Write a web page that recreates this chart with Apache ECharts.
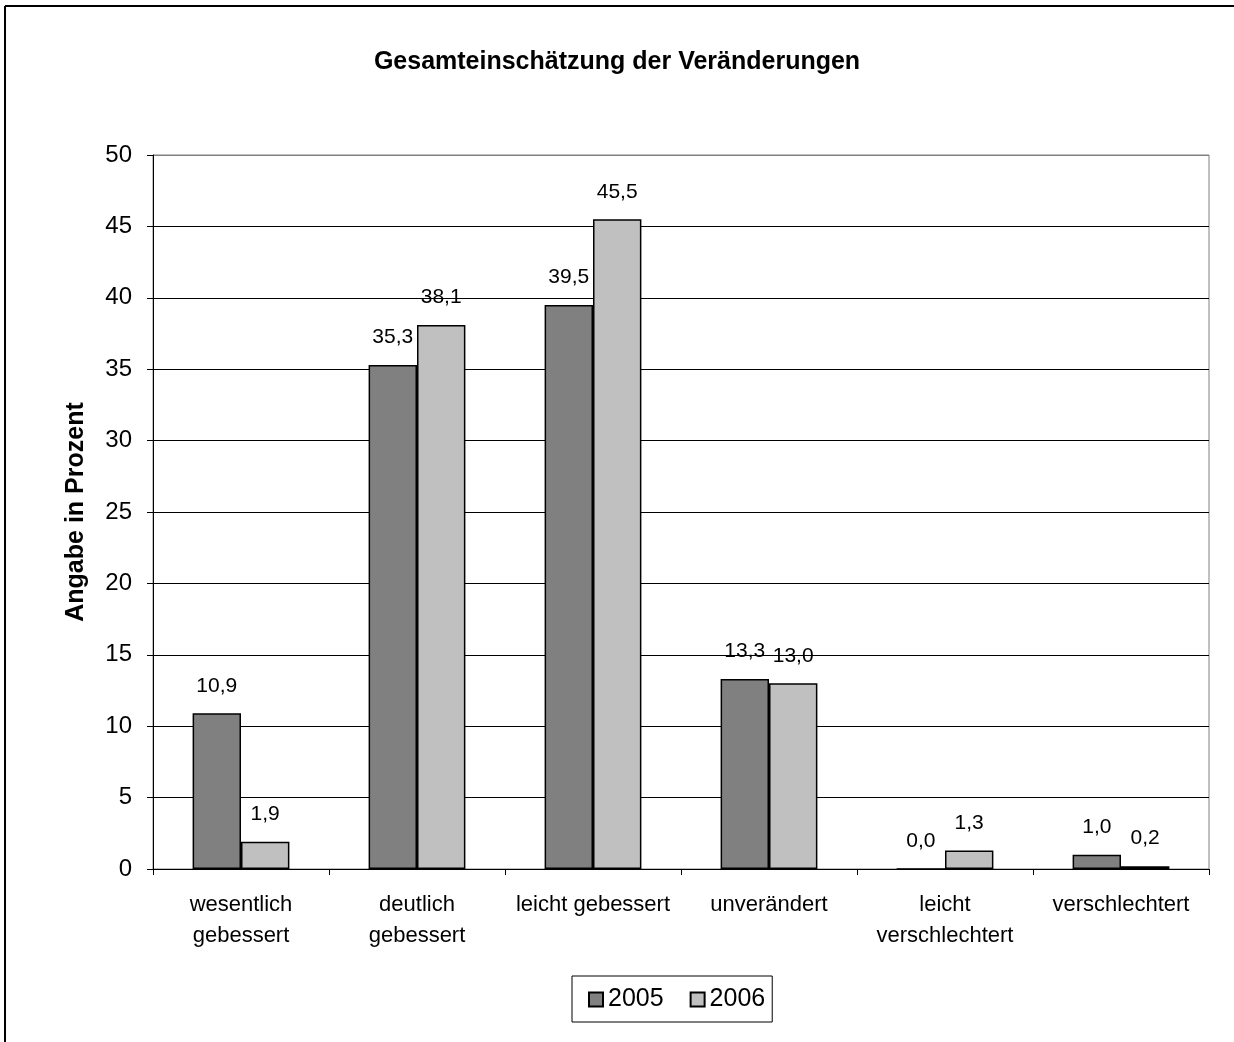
<!DOCTYPE html>
<html>
<head>
<meta charset="utf-8">
<script src="https://cdn.jsdelivr.net/npm/echarts@6/dist/echarts.min.js"></script>
<style>
html,body{margin:0;padding:0;background:#fff;}
#chart{width:1234px;height:1042px;}
</style>
</head>
<body>
<div id="chart"></div>
<script>
const titleText = 'Gesamteinschätzung der Veränderungen';
const yAxisName = 'Angabe in Prozent';
const categories = ['wesentlich\ngebessert', 'deutlich\ngebessert', 'leicht gebessert', 'unverändert', 'leicht\nverschlechtert', 'verschlechtert'];
const seriesNames = ['2005', '2006'];
const values2005 = [10.9, 35.3, 39.5, 13.3, 0.0, 1.0];
const values2006 = [1.9, 38.1, 45.5, 13.0, 1.3, 0.2];
const yMin = 0, yMax = 50, yStep = 5;

const font = '"Liberation Sans", Arial, sans-serif';
const fmt = p => p.value.toFixed(1).replace('.', ',');

const splitColors = [];
for (let v = yMin; v <= yMax; v += yStep) splitColors.push(v === yMax ? '#808080' : '#000000');

const chart = echarts.init(document.getElementById('chart'), null, {renderer: 'canvas'});
const labelStyle = {show: true, position: 'top', distance: 17, formatter: fmt, fontFamily: font, fontSize: 21, color: '#000'};

chart.setOption({
  animation: false,
  backgroundColor: '#fff',
  title: {
    text: titleText, left: 'center', top: 45,
    textStyle: {fontFamily: font, fontSize: 25, fontWeight: 'bold', color: '#000'}
  },
  graphic: [
    {type: 'line', shape: {x1: 5, y1: 6, x2: 1234, y2: 6}, style: {stroke: '#000', lineWidth: 2}},
    {type: 'line', shape: {x1: 5, y1: 6, x2: 5, y2: 1042}, style: {stroke: '#000', lineWidth: 2}}
  ],
  legend: {
    data: seriesNames,
    left: 572, top: 976,
    padding: [11, 7, 10, 16],
    itemGap: 26, itemWidth: 14, itemHeight: 14,
    borderColor: '#000', borderWidth: 1,
    icon: 'rect',
    textStyle: {fontFamily: font, fontSize: 25, color: '#000'}
  },
  grid: {left: 153, right: 25, top: 155, bottom: 173, show: true, borderColor: '#808080', borderWidth: 1, backgroundColor: 'transparent'},
  xAxis: {
    type: 'category', data: categories,
    axisLine: {lineStyle: {color: '#000', width: 1}},
    axisTick: {show: true, length: 6, lineStyle: {color: '#000'}},
    axisLabel: {fontFamily: font, fontSize: 22, color: '#000', margin: 20, lineHeight: 31, interval: 0}
  },
  yAxis: {
    type: 'value', min: yMin, max: yMax, interval: yStep,
    name: yAxisName, nameLocation: 'middle', nameGap: 64, nameRotate: 90,
    nameTextStyle: {fontFamily: font, fontSize: 25, fontWeight: 'bold', color: '#000'},
    axisLine: {show: true, lineStyle: {color: '#000', width: 1}},
    axisTick: {show: true, length: 6, lineStyle: {color: '#000'}},
    axisLabel: {fontFamily: font, fontSize: 24, color: '#000', margin: 21},
    splitLine: {show: true, lineStyle: {color: splitColors, width: 1}}
  },
  series: [
    {name: seriesNames[0], type: 'bar', data: values2005, barGap: '0%', barCategoryGap: '45%',
     itemStyle: {color: '#808080', borderColor: '#000', borderWidth: 1.5}, label: labelStyle},
    {name: seriesNames[1], type: 'bar', data: values2006,
     itemStyle: {color: '#c0c0c0', borderColor: '#000', borderWidth: 1.5}, label: labelStyle}
  ]
});
</script>
</body>
</html>
